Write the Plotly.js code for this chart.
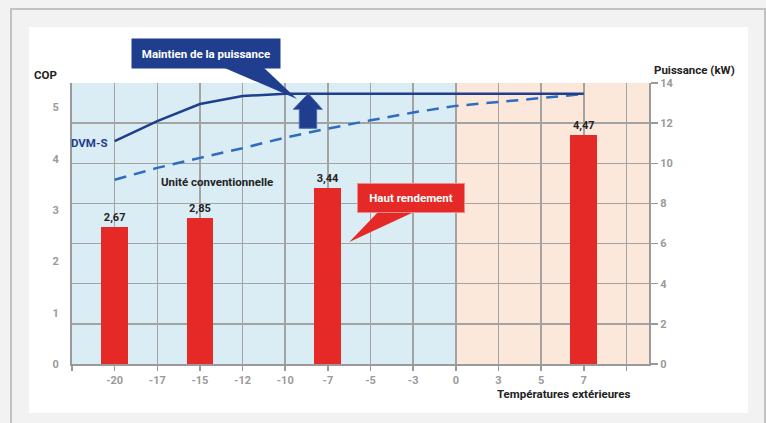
<!DOCTYPE html>
<html><head><meta charset="utf-8">
<script src="https://cdn.plot.ly/plotly-3.0.1.min.js"></script>
<style>html,body{margin:0;padding:0;background:#f2f2f2;}</style>
</head><body><div id="chart" style="width:766px;height:423px;"></div>
<script>
// ---- data ----
const categories = ['-20','-17','-15','-12','-10','-7','-5','-3','0','3','5','7'];
const dvmPower  = [11.1, 12.1, 12.95, 13.35, 13.47, 13.47, 13.47, 13.47, 13.47, 13.47, 13.47, 13.47];
const convPower = [9.18, 9.77, 10.27, 10.75, 11.28, 11.73, 12.14, 12.53, 12.86, 13.04, 13.25, 13.45];
const copCategories = ['-20','-15','-7','7'];
const copValues = [2.67, 2.85, 3.44, 4.47];
const copTicks = [0,1,2,3,4,5];
const powerTicks = [0,2,4,6,8,10,12,14];

const xIdx = categories.map((c,i)=>i);
const copX = copCategories.map(c=>categories.indexOf(c));
const tickVals = [-1].concat(xIdx, [categories.length]);
const tickText = [''].concat(categories, ['']);
const zeroIdx = categories.indexOf('0');

const FONT = 'Roboto, "Open Sans", sans-serif';
const GRID = '#a3a3a3';
const DARKBLUE = '#1f3f8e';
const RED = '#e42926';

const traces = [
  {type:'bar', x: copX, y: copValues, yaxis:'y', width:0.63,
   marker:{color:RED}, texttemplate:'%{y:.2f}', textposition:'outside', cliponaxis:false,
   textfont:{family:FONT, size:11, color:'#222', weight:700}, hoverinfo:'skip'},
  {type:'scatter', mode:'lines', x: xIdx, y: convPower, yaxis:'y2',
   line:{color:'#2d6cc0', width:2.5, dash:'12px,8px'}, hoverinfo:'skip'},
  {type:'scatter', mode:'lines', x: xIdx, y: dvmPower, yaxis:'y2',
   line:{color:DARKBLUE, width:2.5}, hoverinfo:'skip'}
];

// px helpers for decorations (plot area: x 72..649, y 83..364)
const L=72, R=649, T=83, B=364;
const px = v => (v-L)/(R-L);
const py = v => (B-v)/(B-T);

const shapes = [
  {type:'rect', xref:'paper', yref:'paper', x0:px(11), x1:px(765), y0:py(9), y1:py(440),
   fillcolor:'#f2f2f2', line:{color:'#c2c2c2', width:2}, layer:'below'},
  {type:'rect', xref:'paper', yref:'paper', x0:px(29), x1:px(748), y0:py(27), y1:py(413),
   fillcolor:'#ffffff', line:{width:0}, layer:'below'},
  {type:'rect', xref:'x', yref:'paper', x0:-1, x1:zeroIdx, y0:0, y1:1,
   fillcolor:'#daedf4', line:{width:0}, layer:'below'},
  {type:'rect', xref:'x', yref:'paper', x0:zeroIdx, x1:categories.length+0.6, y0:0, y1:1,
   fillcolor:'#fce8da', line:{width:0}, layer:'below'},
  // callout pointer for "Maintien de la puissance"
  {type:'path', xref:'paper', yref:'paper',
   path:`M ${px(220)} ${py(66)} L ${px(297)} ${py(99)} L ${px(262)} ${py(66)} Z`,
   fillcolor:DARKBLUE, line:{width:0}, layer:'above'},
  // blue up arrow
  {type:'path', xref:'paper', yref:'paper',
   path:`M ${px(308.3)} ${py(93.5)} L ${px(322.3)} ${py(109.3)} L ${px(316.7)} ${py(109.3)} L ${px(316.7)} ${py(128.3)} L ${px(299.3)} ${py(128.3)} L ${px(299.3)} ${py(109.3)} L ${px(293.3)} ${py(109.3)} Z`,
   fillcolor:DARKBLUE, line:{color:'#5069aa', width:1}, layer:'above'},
  // callout pointer for "Haut rendement"
  {type:'path', xref:'paper', yref:'paper',
   path:`M ${px(380)} ${py(210)} L ${px(349.3)} ${py(242)} L ${px(418.3)} ${py(210)} Z`,
   fillcolor:RED, line:{width:0}, layer:'above'}
];

const A = (o) => Object.assign({xref:'paper', yref:'paper', showarrow:false, xanchor:'center', yanchor:'middle'}, o);
const annotations = [
  A({x:px(45), y:py(75.5), text:'COP',
   font:{family:FONT, size:11.5, color:'#222', weight:700}}),
  A({x:px(694), y:py(69.5), text:'Puissance (kW)',
   font:{family:FONT, size:11.5, color:'#222', weight:700}}),
  A({x:px(563.3), y:py(394), text:'Températures extérieures',
   font:{family:FONT, size:11.5, color:'#222', weight:700}}),
  A({x:px(110), y:py(142.7), xanchor:'right', text:'DVM-S',
   font:{family:FONT, size:11.5, color:DARKBLUE, weight:700}}),
  A({x:px(217), y:py(181.7), text:'Unité conventionnelle',
   font:{family:FONT, size:11.5, color:'#222', weight:700}}),
  A({x:px(206.2), y:py(53.7), text:'Maintien de la puissance',
   width:148, height:29, borderpad:0, bgcolor:DARKBLUE,
   font:{family:FONT, size:11.5, color:'#ffffff', weight:700}}),
  A({x:px(410.5), y:py(197.5), text:'Haut rendement',
   width:106, height:28, borderpad:0, bgcolor:RED, bordercolor:'#f08a8a', borderwidth:1,
   font:{family:FONT, size:11.5, color:'#ffffff', weight:700}})
];

const tickFont = {family:FONT, size:11, color:'#9a9a9a', weight:700};

const layout = {
  width:766, height:423,
  margin:{l:72, r:117, t:83, b:59, pad:0},
  paper_bgcolor:'#f2f2f2', plot_bgcolor:'rgba(0,0,0,0)',
  separators:',.',
  showlegend:false,
  font:{family:FONT},
  xaxis:{type:'linear', range:[-1, 12.53], tickmode:'array', tickvals:tickVals, ticktext:tickText,
    showgrid:true, gridcolor:GRID, gridwidth:1.5, zeroline:false,
    showline:true, linecolor:'#9a9a9a', linewidth:2,
    ticks:'outside', ticklen:5, tickwidth:1.5, tickcolor:'#9a9a9a', tickfont:tickFont, fixedrange:true},
  yaxis:{range:[0, 5.48], tickmode:'array', tickvals:copTicks, showgrid:false, zeroline:false,
    showline:true, linecolor:'#9a9a9a', linewidth:2, ticks:'', ticklabelstandoff:9,
    tickfont:tickFont, fixedrange:true},
  yaxis2:{overlaying:'y', side:'right', range:[0,14], tickmode:'array', tickvals:powerTicks,
    showgrid:true, gridcolor:GRID, gridwidth:1.5, zeroline:false,
    showline:true, linecolor:'#9a9a9a', linewidth:2,
    ticks:'outside', ticklen:7, tickwidth:1.5, tickcolor:'#9a9a9a', tickfont:tickFont, fixedrange:true},
  bargap:0,
  shapes:shapes,
  annotations:annotations
};

Plotly.newPlot('chart', traces, layout, {displayModeBar:false, staticPlot:true});
</script>
</body></html>
